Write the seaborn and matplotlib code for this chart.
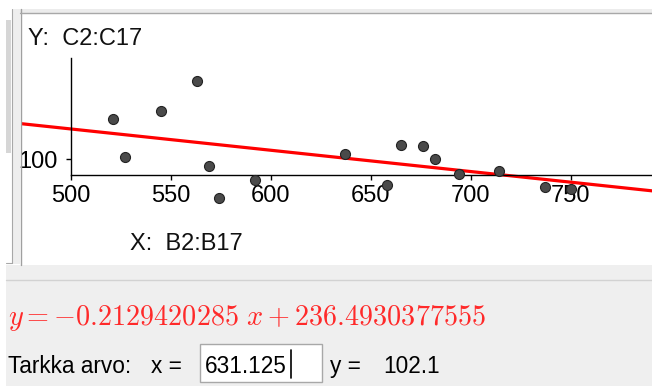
import numpy as np
import pandas as pd
import matplotlib
matplotlib.use("Agg")
import matplotlib.pyplot as plt
from matplotlib.patches import Rectangle
from matplotlib.lines import Line2D
import seaborn as sns

# ---- data ----
x_vals = [521, 527, 545, 563, 569, 574, 592, 637, 658, 665, 676, 682, 694, 714, 737, 750]
y_vals = [140, 102, 148, 178, 93, 61, 79, 105, 74, 114, 113, 100, 85, 88, 72, 70]
slope = -0.2129420285
intercept = 236.4930377555
x_ticks = [500, 550, 600, 650, 700, 750]
y_ticks = [100]
x_label = "X:  B2:B17"
y_label = "Y:  C2:C17"
equation = r"$y = -0.2129420285\ x + 236.4930377555$"
input_label = "Tarkka arvo:"
x_eq = "x ="
input_value = "631.125"
y_eq = "y ="
result_value = "102.1"

sns.set_theme(style="white")
plt.rcParams["font.family"] = ["Liberation Sans", "DejaVu Sans"]
plt.rcParams["mathtext.fontset"] = "cm"

W, H = 652, 386
fig = plt.figure(figsize=(W / 100, H / 100), dpi=100)
fig.patch.set_facecolor("white")

def fx(px):
    return px / W

def fy(py):
    return 1 - py / H

def frect(x0, y0, x1, y1, **kw):
    fig.add_artist(Rectangle((fx(x0), fy(y1)), fx(x1) - fx(x0), fy(y0) - fy(y1),
                             transform=fig.transFigure, **kw))

def fline(x0, y0, x1, y1, **kw):
    fig.add_artist(Line2D([fx(x0), fx(x1)], [fy(y0), fy(y1)], transform=fig.transFigure, **kw))

# ---- window chrome ----
frect(20, 9, 652, 12.5, facecolor="#ececec", edgecolor="none", zorder=0)
frect(12, 9, 20, 264, facecolor="#eeeeee", edgecolor="none", zorder=0)
frect(6, 20, 11, 153, facecolor="#d6d6d6", edgecolor="none", zorder=0)
fline(12, 9, 12, 263, color="#a8a8a8", lw=0.8)
fline(20.5, 9, 20.5, 265, color="#a0a0a0", lw=1.0)
fline(20, 12.5, 652, 12.5, color="#a8a8a8", lw=1.0)
fline(6, 263, 12, 263, color="#a8a8a8", lw=0.8)
frect(6, 265, 652, 386, facecolor="#efefef", edgecolor="none", zorder=0)
fline(6, 280, 652, 280, color="#d2d2d2", lw=1.0)

# ---- graphics view ----
ax = fig.add_axes([fx(21), fy(265), fx(652) - fx(21), fy(13) - fy(265)])
ax.set_facecolor("white")
ax.set_xlim(475, 790.5)
ax.set_ylim(-6, 246)

df = pd.DataFrame({"x": x_vals, "y": y_vals})
xs = np.array(ax.get_xlim())
sns.lineplot(x=xs, y=intercept + slope * xs, color="#ff0000", lw=2.3, ax=ax, zorder=2)
sns.scatterplot(data=df, x="x", y="y", s=52, color="#4a4a4a", edgecolor="#222222",
                linewidth=0.8, ax=ax, zorder=3)

for s in ["top", "right"]:
    ax.spines[s].set_visible(False)
ax.spines["left"].set_position(("data", 500))
ax.spines["bottom"].set_position(("data", 84))
ax.spines["left"].set_bounds(84, 201)
ax.spines["bottom"].set_bounds(500, 790.5)
for s in ["left", "bottom"]:
    ax.spines[s].set_color("black")
    ax.spines[s].set_linewidth(1.0)
ax.set_xticks(x_ticks)
ax.set_yticks(y_ticks)
ax.tick_params(axis="both", direction="out", length=3.5, width=1.0, color="black",
               labelsize=17, labelcolor="black")
ax.tick_params(axis="x", pad=4, bottom=True)
ax.tick_params(axis="y", pad=6, left=True)
ax.set_xlabel("")
ax.set_ylabel("")
ax.margins(0)

fig.text(fx(28), fy(45), y_label, fontsize=17, color="#111111", va="baseline", ha="left")
fig.text(fx(130), fy(250), x_label, fontsize=17, color="#111111", va="baseline", ha="left")

# ---- lower panel ----
fig.text(fx(8), fy(325), equation, fontsize=20.3, color="#ff2a2a", va="baseline", ha="left")
fs = 16.3
fig.text(fx(8), fy(373), input_label, fontsize=fs, color="black", va="baseline", ha="left")
fig.text(fx(151), fy(373), x_eq, fontsize=fs, color="black", va="baseline", ha="left")
frect(200, 344, 322, 382, facecolor="white", edgecolor="#a8a8a8", lw=1.0, zorder=1)
fig.text(fx(205), fy(373), input_value, fontsize=fs, color="black", va="baseline", ha="left")
fline(290.5, 350, 290.5, 378, color="black", lw=1.2)
fig.text(fx(330), fy(373), y_eq, fontsize=fs, color="black", va="baseline", ha="left")
fig.text(fx(383), fy(373), result_value, fontsize=fs, color="black", va="baseline", ha="left")

fig.savefig("out.png", dpi=100)
